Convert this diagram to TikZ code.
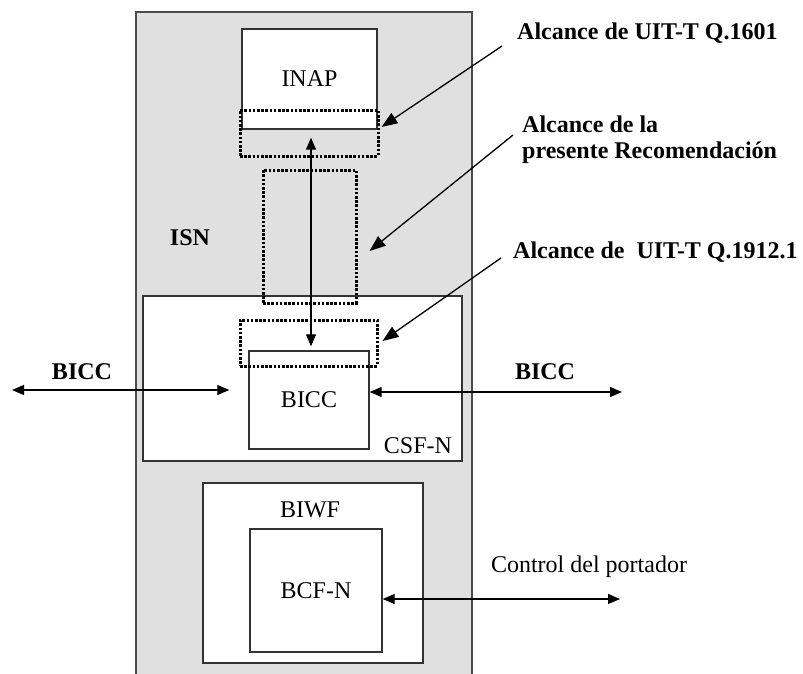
\documentclass[tikz,border=0pt]{standalone}
\usepackage{fontspec}
\setmainfont{Liberation Serif}
\usetikzlibrary{arrows.meta}
\definecolor{isn-gris}{HTML}{E0E0E0}
\definecolor{isn-borde}{HTML}{4A4A4A}

\tikzset{
  caja/.style={draw=black!80, line width=1.4pt, fill=white, inner sep=0pt},
  alcance/.style={draw=black, line width=3pt, dash pattern=on 2.6pt off 1.6pt, inner sep=0pt},
  flecha/.style={line width=1.2pt, {Triangle[length=12pt,width=10pt]}-{Triangle[length=12pt,width=10pt]}},
  llamada/.style={line width=1.3pt, -{Triangle[length=16pt,width=12pt]}},
  rotulo/.style={inner sep=0pt, font=\fontsize{24}{26}\selectfont\bfseries},
}

\begin{document}
\begin{tikzpicture}[x=1pt, y=-1pt, font=\fontsize{24}{26}\selectfont]

    % Marco
    \useasboundingbox (0,0) rectangle (803,673);
    \clip (0,0) rectangle (803,673);

% ISN
\fill[isn-gris] (136,12) rectangle (472,690);
\draw[isn-borde, line width=2pt] (136,690) -- (136,12) -- (472,12) -- (472,690);
\node[rotulo] (isn) at (190,238) {ISN};

% INAP
\node[caja, minimum width=135pt, minimum height=100pt] (inap) at (309.5,79) {INAP};

% CSF-N con BICC
\node[caja, minimum width=319pt, minimum height=165pt] (csfn) at (302.5,378.5) {};
\node[inner sep=0pt] (csfnlbl) at (418,446) {CSF-N};
\node[caja, minimum width=120pt, minimum height=98pt] (biccbox) at (309,400) {BICC};

% BIWF con BCF-N
\node[caja, minimum width=220pt, minimum height=180pt] (biwf) at (313,573) {};
\node[inner sep=0pt] (biwflbl) at (310,510) {BIWF};
\node[caja, minimum width=132pt, minimum height=123pt] (bcfn) at (316,590.5) {BCF-N};

% Alcances (punteados)
\node[alcance, minimum width=138pt, minimum height=46pt] (scopeq) at (309,133) {};
\node[alcance, minimum width=93pt, minimum height=133pt] (scoperec) at (309.5,236.5) {};
\node[alcance, minimum width=137pt, minimum height=46pt] (scopeb) at (308.5,343) {};

% Flechas
\draw[flecha] ([xshift=1.5pt,yshift=-8pt]inap.south) -- ([xshift=2pt,yshift=4pt]biccbox.north);

\coordinate (bicclft) at (12,390);
\coordinate (biccrgt) at (622,392);
\coordinate (ctrl) at (620,599);
\draw[flecha] (bicclft) -- ([xshift=-19pt,yshift=10pt]biccbox.west);
\draw[flecha] ([yshift=8pt]biccbox.east) -- (biccrgt);
\draw[flecha] ([yshift=-8.5pt]bcfn.east) -- (ctrl);

\node[rotulo] (biccizq) at (82,372) {BICC};
\node[rotulo] (biccder) at (545,372) {BICC};
\node[inner sep=0pt] (ctrllbl) at (589,567) {Control del portador};

% Textos de alcance
\node[rotulo, anchor=west] (q1601) at (517,33) {Alcance de UIT-T Q.1601};
\node[rotulo, anchor=west, align=left] (rec) at (522,140) {Alcance de la\\presente Recomendación};
\node[rotulo, anchor=west] (q1912) at (513,252) {Alcance de\ \ UIT-T Q.1912.1};

\draw[llamada] ([xshift=-15pt,yshift=-13pt]q1601.west) -- ([xshift=2pt,yshift=6pt]scopeq.east);
\draw[llamada] ([xshift=-9pt,yshift=5pt]rec.west) -- ([xshift=12pt,yshift=-14.5pt]scoperec.east);
\draw[llamada] ([xshift=-12pt,yshift=-6pt]q1912.west) -- ([xshift=4pt,yshift=2pt]scopeb.east);

\end{tikzpicture}
\end{document}
